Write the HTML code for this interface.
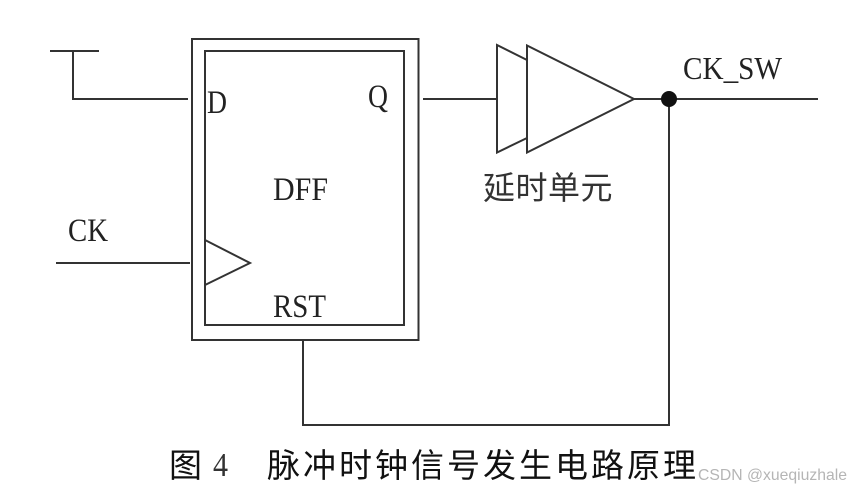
<!DOCTYPE html>
<html>
<head>
<meta charset="utf-8">
<style>
html,body{margin:0;padding:0;background:#fff;width:850px;height:489px;overflow:hidden}
svg{display:block}
</style>
</head>
<body>
<svg width="850" height="489" viewBox="0 0 850 489" xmlns="http://www.w3.org/2000/svg">
<g style="filter:blur(0.35px)">
<g fill="none" stroke="#333" stroke-width="2">
<rect x="192" y="39" width="226.500" height="301"/>
<rect x="205" y="51" width="199" height="274"/>
<path d="M50 51H99M73 51V99H188"/>
<path d="M56 263H190"/>
<path d="M205 240L250 263L205 285"/>
<path d="M423 99H497"/>
<path d="M527 60L497 45V152.500L527 138"/>
<path d="M527 45.500V152.500L634 99Z"/>
<path d="M634 99H818"/>
<path d="M669 99V425H303V340"/>
</g>
<circle cx="669" cy="99" r="8" fill="#111"/>
<g font-family="'Liberation Serif',serif" font-size="33" fill="#222">
<text x="207" y="113" textLength="20" lengthAdjust="spacingAndGlyphs">D</text>
<text x="368" y="107" textLength="20" lengthAdjust="spacingAndGlyphs">Q</text>
<text x="273" y="200" textLength="55" lengthAdjust="spacingAndGlyphs">DFF</text>
<text x="68" y="241" textLength="40" lengthAdjust="spacingAndGlyphs">CK</text>
<text x="273" y="317" textLength="53" lengthAdjust="spacingAndGlyphs">RST</text>
<text x="683" y="79" font-size="32" textLength="99" lengthAdjust="spacingAndGlyphs">CK_SW</text>
</g>
<text x="483" y="199" font-family="'Liberation Sans','Noto Sans CJK SC',sans-serif" font-size="32" letter-spacing="0.5" fill="#333">延时单元</text>
<text x="169" y="477" font-family="'Liberation Sans','Noto Sans CJK SC',sans-serif" font-size="33" fill="#111">图</text>
<text x="213" y="476" font-family="'Liberation Serif',serif" font-size="34" textLength="15" lengthAdjust="spacingAndGlyphs" fill="#333">4</text>
<text x="267" y="477" font-family="'Liberation Sans','Noto Sans CJK SC',sans-serif" font-size="33" letter-spacing="3" fill="#111">脉冲时钟信号发生电路原理</text>
</g>
<text x="698" y="480" font-family="'Liberation Sans',sans-serif" font-size="16" textLength="149" lengthAdjust="spacingAndGlyphs" fill="#b5b5b5">CSDN @xueqiuzhale</text>
</svg>
</body>
</html>
